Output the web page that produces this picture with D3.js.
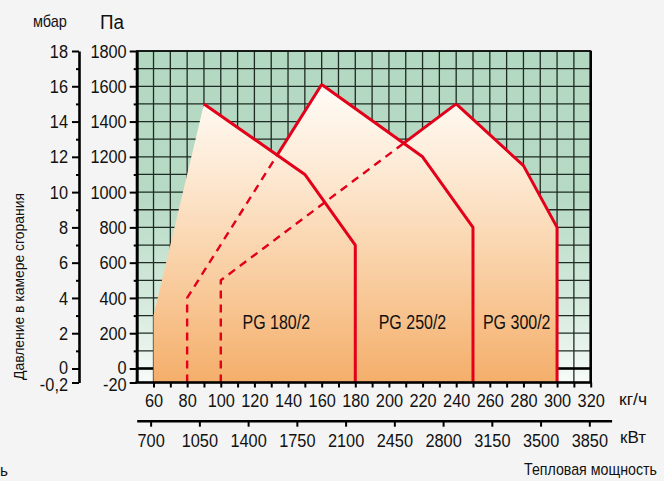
<!DOCTYPE html>
<html>
<head>
<meta charset="utf-8">
<script src="https://cdn.jsdelivr.net/npm/d3@7"></script>
<style>
  body { margin: 0; background: #f4f4f4; }
  svg { display: block; }
</style>
</head>
<body>
<svg id="chart" width="664" height="481"></svg>
<script>
// данные диаграммы
const burners = ["PG 180/2", "PG 250/2", "PG 300/2"];
const leftFlow = [[60, 60, 90], [80, 80, 160], [100, 100, 240]];
const leftPa = [[-20, 300, 1500], [-20, 400, 1610], [-20, 500, 1500]];
const rightFlow = [[150, 180, 180], [220, 250, 250], [280, 300, 300]];
const rightPa = [[1100, 700, -20], [1200, 800, -20], [1150, 800, -20]];

const flowTicks = [60, 80, 100, 120, 140, 160, 180, 200, 220, 240, 260, 280, 300, 320];
const powerTicks = [700, 1050, 1400, 1750, 2100, 2450, 2800, 3150, 3500, 3850];
const paTicks = [-20, 0, 200, 400, 600, 800, 1000, 1200, 1400, 1600, 1800];
const mbarTicks = [-0.2, 0, 2, 4, 6, 8, 10, 12, 14, 16, 18];

// где стоят подписи горелок (кг/ч, Па)
const labelPos = [[133, 260], [214, 260], [276, 260]];

const font = "'Liberation Sans', Arial, sans-serif";
const narrowK = 0.86;   // сжатие шрифта по горизонтали
const red = "#e2001a";
const ink = "#111";

const svg = d3.select("#chart").attr("font-family", font);

const x = d3.scaleLinear().domain([50, 320]).range([136.7, 590.7]);
const y = d3.scaleLinear().domain([-20, 0, 1800]).range([382.5, 368.5, 51]);
const yMbar = d3.scaleLinear().domain([-0.2, 0, 18]).range([382.5, 368.5, 51]);
const kw = d3.scaleLinear().domain([600, 4010]).range([136.7, 611.6]);

const [x0, x1] = x.range();
const [yb, , yt] = y.range();

// узкий шрифт: сжимаем текст вокруг его точки привязки
const narrow = (sel, k = narrowK) => sel.each(function () {
    const t = d3.select(this);
    const tx = +t.attr("x") || 0;
    t.attr("x", tx / k).attr("transform", `scale(${k},1)`);
});

const defs = svg.append("defs");

const green = defs.append("linearGradient").attr("id", "green")
    .attr("gradientUnits", "userSpaceOnUse")
    .attr("x1", 0).attr("x2", 0).attr("y1", yt).attr("y2", yb);
[[0, "#b3d8c1"], [0.45, "#b7dac5"], [0.8, "#d9ece0"], [1, "#f7fbf8"]].forEach(([o, c]) =>
    green.append("stop").attr("offset", o).attr("stop-color", c));

const orange = defs.append("linearGradient").attr("id", "orange")
    .attr("gradientUnits", "userSpaceOnUse")
    .attr("x1", 0).attr("x2", 0).attr("y1", y(1610)).attr("y2", yb);
[[0, "#fffcf7"], [0.3, "#fde9d3"], [0.65, "#f9cda0"], [1, "#f4ae6a"]].forEach(([o, c]) =>
    orange.append("stop").attr("offset", o).attr("stop-color", c));

// контуры областей
const edge = (fs, ps) => fs.map((f, i) => [x(f), y(ps[i])]);
const regions = burners.map((b, i) =>
    edge(leftFlow[i], leftPa[i]).concat(edge(rightFlow[i], rightPa[i])));
const line = d3.line();

regions.forEach((r, i) => {
    defs.append("clipPath").attr("id", "in" + i)
        .append("path").attr("d", line(r) + "Z");
    const m = defs.append("mask").attr("id", "out" + i)
        .attr("maskUnits", "userSpaceOnUse")
        .attr("x", 0).attr("y", 0).attr("width", 664).attr("height", 481);
    m.append("rect").attr("width", 664).attr("height", 481).attr("fill", "#fff");
    m.append("path").attr("d", line(r) + "Z").attr("fill", "#000");
});

// поле с сеткой
svg.append("rect")
    .attr("x", x0).attr("y", yt).attr("width", x1 - x0).attr("height", yb - yt)
    .attr("fill", "url(#green)");

const grid = svg.append("g").attr("stroke", "#1e2a22").attr("stroke-width", 1.3);
grid.selectAll(".v").data(d3.range(50, 321, 10)).join("line")
    .attr("x1", d => x(d)).attr("x2", d => x(d)).attr("y1", yt).attr("y2", yb);
grid.selectAll(".h").data(d3.range(0, 1801, 100)).join("line")
    .attr("x1", x0).attr("x2", x1).attr("y1", d => y(d)).attr("y2", d => y(d));

svg.append("line")
    .attr("x1", x0).attr("x2", x1).attr("y1", y(0)).attr("y2", y(0))
    .attr("stroke", "#000").attr("stroke-width", 2.6);

// заливка рабочих полей
svg.append("g").selectAll("path").data(regions).join("path")
    .attr("d", d => line(d) + "Z")
    .attr("fill", "url(#orange)");

// левые границы: пунктир внутри предыдущей области, сплошная снаружи
const lines = svg.append("g").attr("fill", "none").attr("stroke", red)
    .attr("stroke-linejoin", "round");

burners.forEach((b, i) => {
    const left = edge(leftFlow[i], leftPa[i]);
    const right = [left[left.length - 1]].concat(edge(rightFlow[i], rightPa[i]));
    if (i > 0) {
        lines.append("path").attr("d", line(left))
            .attr("stroke-width", 2.4).attr("stroke-dasharray", "8,6")
            .attr("clip-path", `url(#in${i - 1})`);
        lines.append("path").attr("d", line(left))
            .attr("stroke-width", 3).attr("mask", `url(#out${i - 1})`);
    }
    lines.append("path").attr("d", line(right)).attr("stroke-width", 3);
});

// рамка
svg.append("rect")
    .attr("x", x0).attr("y", yt).attr("width", x1 - x0).attr("height", yb - yt)
    .attr("fill", "none").attr("stroke", "#000").attr("stroke-width", 1.4);
svg.append("line").attr("x1", x1).attr("x2", x1).attr("y1", yt).attr("y2", yb)
    .attr("stroke", "#000").attr("stroke-width", 2.6);

// подписи горелок
svg.append("g").selectAll("g").data(burners).join("g")
    .attr("transform", (d, i) => `translate(${x(labelPos[i][0])},${y(labelPos[i][1])})`)
    .append("text")
    .attr("dy", "0.35em")
    .attr("text-anchor", "middle")
    .attr("font-size", 19.5)
    .attr("fill", ink)
    .text(d => d)
    .call(narrow, 0.82);

// оси
const styleAxis = (g, w) => {
    g.attr("font-family", font).attr("font-size", 19);
    g.selectAll(".tick line").attr("stroke", "#000").attr("stroke-width", 2);
    g.selectAll(".tick text").attr("fill", ink).call(narrow);
    g.select(".domain").attr("stroke", "#000").attr("stroke-width", w);
};

// нижняя и нулевая подписи слева стоят тесно, чуть разводим их
const spreadLow = g => {
    g.selectAll(".tick text").filter(d => d < 0).attr("dy", "0.42em");
    g.selectAll(".tick text").filter(d => d === 0).attr("dy", "0.26em");
};

svg.append("g")
    .attr("transform", `translate(0,${yb})`)
    .call(d3.axisBottom(x).tickValues(d3.range(60, 321, 10))
        .tickSize(5).tickSizeOuter(0).tickPadding(6)
        .tickFormat(d => flowTicks.includes(d) ? d : ""))
    .call(g => g.select(".domain").remove())
    .call(g => styleAxis(g, 0));
svg.append("line").attr("x1", x0 - 1.3).attr("x2", x1 + 1.3).attr("y1", yb).attr("y2", yb)
    .attr("stroke", "#000").attr("stroke-width", 2.6);

svg.append("g")
    .attr("transform", `translate(0,420.7)`)
    .call(d3.axisBottom(kw).tickValues(powerTicks).tickSize(6).tickSizeOuter(0).tickPadding(7)
        .tickFormat(d => d))
    .call(g => styleAxis(g, 2.6));

svg.append("g")
    .attr("transform", `translate(${x0},0)`)
    .call(d3.axisLeft(y).tickValues(paTicks).tickSize(7).tickSizeOuter(0).tickPadding(3)
        .tickFormat(d => d))
    .call(g => styleAxis(g, 3))
    .call(spreadLow);
svg.append("g")
    .attr("transform", `translate(${x0},0)`)
    .call(d3.axisLeft(y).tickValues(d3.range(100, 1800, 200)).tickSize(3).tickFormat(""))
    .call(g => g.select(".domain").remove())
    .call(g => styleAxis(g, 0));

svg.append("g")
    .attr("transform", `translate(79,0)`)
    .call(d3.axisLeft(yMbar).tickValues(mbarTicks).tickSize(7).tickSizeOuter(0).tickPadding(4)
        .tickFormat(d => String(d).replace(".", ",")))
    .call(g => styleAxis(g, 2.6))
    .call(spreadLow);
svg.append("g")
    .attr("transform", `translate(79,0)`)
    .call(d3.axisLeft(yMbar).tickValues(d3.range(1, 18, 2)).tickSize(3).tickFormat(""))
    .call(g => g.select(".domain").remove())
    .call(g => styleAxis(g, 0));

// подписи единиц: ширину подгоняем сжатием, а не textLength
const label = (t, px, py, size, len, rotate = false) => {
    const g = svg.append("g")
        .attr("transform", rotate ? `translate(${px},${py}) rotate(-90)` : `translate(${px},${py})`);
    const txt = g.append("text").attr("font-size", size).attr("fill", ink).text(t);
    const k = len / txt.node().getComputedTextLength();
    txt.attr("transform", `scale(${k},1)`);
};

label("мбар", 33, 27, 16, 34);
label("Па", 100, 29, 20, 24);
label("кг/ч", 619, 405, 17, 28);
label("кВт", 620, 443, 17, 26);
label("Тепловая мощность", 524, 475, 16.5, 133);
label("ь", 0, 476, 16, 8);
label("Давление в камере сгорания", 24, 380, 15.5, 187, true);
</script>
</body>
</html>
